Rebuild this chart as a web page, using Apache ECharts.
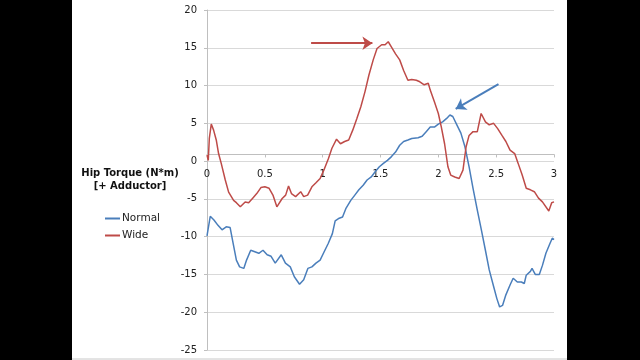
<!DOCTYPE html>
<html>
<head>
<meta charset="utf-8">
<script src="https://cdn.jsdelivr.net/npm/echarts@6/dist/echarts.min.js"></script>
<style>
html,body{margin:0;padding:0;background:#000;}
#chart{width:640px;height:360px;}
</style>
</head>
<body>
<div id="chart"></div>
<script>
// ---- data ----
const xTicks = [0, 0.5, 1, 1.5, 2, 2.5, 3];
const yTicks = [-25, -20, -15, -10, -5, 0, 5, 10, 15, 20];
const seriesNames = ['Normal', 'Wide'];

const normalX = [0,0.014,0.028,0.06,0.095,0.13,0.166,0.2,0.226,0.254,0.282,0.318,0.342,0.378,0.413,0.448,0.484,0.52,0.554,0.59,0.642,0.678,0.72,0.755,0.8,0.836,0.872,0.907,0.942,0.978,1.013,1.048,1.084,1.108,1.137,1.172,1.2,1.243,1.278,1.313,1.35,1.384,1.42,1.454,1.49,1.525,1.56,1.595,1.63,1.666,1.7,1.737,1.77,1.825,1.86,1.895,1.93,1.966,2.0,2.037,2.072,2.1,2.125,2.16,2.195,2.23,2.266,2.3,2.337,2.372,2.407,2.44,2.478,2.506,2.53,2.555,2.584,2.62,2.647,2.683,2.718,2.743,2.76,2.796,2.81,2.838,2.873,2.9,2.93,2.965,2.985,3.0];
const normalY = [-9.9,-9.9,-7.3,-7.8,-8.5,-9.1,-8.7,-8.8,-10.9,-13.1,-14.0,-14.2,-13.1,-11.8,-12.0,-12.2,-11.8,-12.4,-12.6,-13.5,-12.4,-13.5,-14.0,-15.3,-16.3,-15.7,-14.2,-14.0,-13.5,-13.1,-12.0,-10.9,-9.6,-7.9,-7.6,-7.4,-6.3,-5.2,-4.5,-3.8,-3.2,-2.5,-2.1,-1.4,-0.75,-0.3,0.1,0.6,1.2,2.1,2.6,2.8,3.0,3.1,3.3,3.9,4.5,4.5,4.9,5.2,5.65,6.1,5.9,4.8,3.7,1.9,-0.75,-3.6,-6.5,-9.1,-11.8,-14.4,-16.6,-18.2,-19.3,-19.1,-17.7,-16.4,-15.5,-16.0,-16.0,-16.2,-15.1,-14.6,-14.2,-15.0,-15.0,-13.8,-12.2,-10.9,-10.2,-10.4];

const wideX = [0,0.011,0.02,0.037,0.057,0.08,0.1,0.123,0.158,0.187,0.23,0.254,0.288,0.33,0.36,0.395,0.43,0.466,0.5,0.537,0.57,0.604,0.65,0.68,0.705,0.73,0.766,0.81,0.836,0.87,0.907,0.94,0.978,1.01,1.05,1.08,1.12,1.154,1.19,1.225,1.26,1.295,1.33,1.366,1.4,1.437,1.47,1.51,1.54,1.567,1.595,1.63,1.666,1.7,1.737,1.77,1.81,1.84,1.878,1.913,1.93,1.966,2.0,2.026,2.054,2.083,2.107,2.142,2.18,2.195,2.213,2.24,2.266,2.3,2.337,2.37,2.407,2.44,2.478,2.513,2.55,2.584,2.62,2.66,2.69,2.725,2.76,2.796,2.83,2.866,2.9,2.955,2.98,3.0];
const wideY = [0.8,0.1,3.0,4.9,4.1,2.8,1.0,-0.3,-2.5,-4.1,-5.2,-5.5,-6.05,-5.4,-5.5,-4.9,-4.3,-3.5,-3.4,-3.6,-4.5,-6.05,-4.95,-4.5,-3.3,-4.3,-4.7,-4.05,-4.7,-4.5,-3.4,-2.9,-2.3,-1.2,0.35,1.7,2.9,2.3,2.6,2.8,4.1,5.6,7.2,9.2,11.4,13.4,14.9,15.4,15.4,15.8,15.1,14.2,13.4,12.0,10.7,10.8,10.7,10.5,10.1,10.3,9.4,7.85,6.3,4.5,2.3,-0.75,-1.85,-2.1,-2.3,-2.5,-1.2,1.9,3.4,3.9,3.9,6.3,5.2,4.8,5.0,4.3,3.4,2.6,1.45,1.0,-0.3,-1.85,-3.6,-3.8,-4.05,-4.9,-5.4,-6.6,-5.5,-5.4];

// annotation arrows (data coordinates: [start, end])
const redArrow = [[0.9, 15.6], [1.43, 15.6]];
const blueArrow = [[2.52, 10.2], [2.15, 6.9]];

const titleLines = ['Hip Torque (N*m)', '[+ Adductor]'];

// ---- chart ----
const zip = (xs, ys) => xs.map((x, i) => [x, ys[i]]);
const blue = '#4a7ebb';
const red = '#be4b48';
const font = 'DejaVu Sans';
const gridBottom = 10;

const chart = echarts.init(document.getElementById('chart'), null, {renderer: 'canvas'});
chart.setOption({
  backgroundColor: '#000',
  animation: false,
  graphic: [
    {type: 'rect', z: -10, shape: {x: 72, y: 0, width: 495, height: 360}, style: {fill: '#fff'}},
    {type: 'line', z: -9, shape: {x1: 72, y1: 359, x2: 567, y2: 359}, style: {stroke: '#c8c8c8', lineWidth: 1}}
  ],
  title: {
    text: titleLines.join('\n'),
    left: 130, top: 167, textAlign: 'center', padding: 0,
    textStyle: {fontFamily: font, fontSize: 10, fontWeight: 'bold', color: '#111', lineHeight: 13}
  },
  legend: {
    data: seriesNames,
    orient: 'vertical',
    left: 105, top: 212,
    padding: 0,
    itemGap: 4,
    itemWidth: 15, itemHeight: 2,
    icon: 'rect',
    textStyle: {fontFamily: font, fontSize: 10.5, color: '#222', lineHeight: 13, padding: [0, 0, 0, -3]}
  },
  grid: {left: 207, right: 86, top: 10, bottom: gridBottom, containLabel: false},
  xAxis: {
    type: 'value', position: 'bottom', min: xTicks[0], max: xTicks[xTicks.length - 1], interval: 0.5,
    axisLine: {show: true, onZero: false, lineStyle: {color: '#bfbfbf'}},
    axisTick: {show: true, length: 3, lineStyle: {color: '#bfbfbf'}},
    splitLine: {show: false},
    axisLabel: {fontFamily: font, fontSize: 10, color: '#222', margin: 15}
  },
  yAxis: {
    type: 'value', min: yTicks[0], max: yTicks[yTicks.length - 1], interval: 5,
    axisLine: {show: true, onZero: false, lineStyle: {color: '#bfbfbf'}},
    axisTick: {show: true, length: 3, lineStyle: {color: '#bfbfbf'}},
    splitLine: {show: true, lineStyle: {color: '#d9d9d9'}},
    axisLabel: {fontFamily: font, fontSize: 10, color: '#222', margin: 10}
  },
  series: [
    {
      name: seriesNames[0], type: 'line', data: zip(normalX, normalY),
      showSymbol: false, symbol: 'none', lineStyle: {color: blue, width: 1.5}, itemStyle: {color: blue},
      markLine: {
        silent: true, symbol: ['none', 'arrow'], symbolSize: 10, label: {show: false},
        lineStyle: {color: blue, width: 2, type: 'solid'},
        itemStyle: {color: blue},
        data: [[{coord: blueArrow[0]}, {coord: blueArrow[1]}]]
      }
    },
    {
      name: seriesNames[1], type: 'line', data: zip(wideX, wideY),
      showSymbol: false, symbol: 'none', lineStyle: {color: red, width: 1.5}, itemStyle: {color: red},
      markLine: {
        silent: true, symbol: ['none', 'arrow'], symbolSize: 10, label: {show: false},
        lineStyle: {color: red, width: 2, type: 'solid'},
        itemStyle: {color: red},
        data: [[{coord: redArrow[0]}, {coord: redArrow[1]}]]
      }
    }
  ]
});

// place the x axis on the y = 0 line (the chart's horizontal axis crosses at zero)
const zeroY = chart.convertToPixel({yAxisIndex: 0}, 0);
const bottomY = chart.getHeight() - gridBottom;
chart.setOption({xAxis: {offset: zeroY - bottomY}});
</script>
</body>
</html>
